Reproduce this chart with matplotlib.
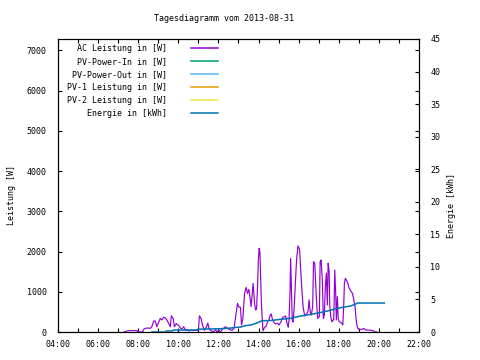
import matplotlib
matplotlib.use("Agg")
import matplotlib.pyplot as plt
from matplotlib.ticker import MultipleLocator, FixedLocator

plt.rcParams['font.family'] = ['DejaVu Sans Mono']
plt.rcParams['font.size'] = 6

title = "Tagesdiagramm vom 2013-08-31"
series_names = ["AC Leistung in [W]", "PV-Power-In in [W]", "PV-Power-Out in [W]",
                "PV-1 Leistung in [W]", "PV-2 Leistung in [W]", "Energie in [kWh]"]
colors = ["#9400D3", "#009E73", "#56B4E9", "#E69F00", "#F0E442", "#0072B2"]

x_ticks = [4, 6, 8, 10, 12, 14, 16, 18, 20, 22]
x_labels = ["04:00", "06:00", "08:00", "10:00", "12:00", "14:00",
            "16:00", "18:00", "20:00", "22:00"]

# AC Leistung (hours, W)
ac_time = [7.30, 7.45, 7.60, 7.93, 8.00, 8.22, 8.27, 8.35, 8.50, 8.60, 8.68, 8.77, 8.85,
           8.93, 9.00, 9.10, 9.18, 9.27, 9.35, 9.43, 9.52, 9.60, 9.65, 9.75, 9.80, 9.90,
           9.95, 10.02, 10.10, 10.18, 10.27, 10.35, 10.43, 10.52, 10.60, 10.75, 10.90,
           11.00, 11.05, 11.13, 11.20, 11.30, 11.40, 11.47, 11.53, 11.60, 11.77, 11.85,
           11.93, 12.02, 12.10, 12.18, 12.35, 12.50, 12.68, 12.78, 12.88, 12.95, 13.02,
           13.10, 13.15, 13.22, 13.30, 13.38, 13.45, 13.52, 13.58, 13.63, 13.68, 13.73,
           13.80, 13.85, 13.90, 13.95, 13.99, 14.03, 14.07, 14.10, 14.15, 14.22, 14.30,
           14.38, 14.45, 14.52, 14.58, 14.63, 14.70, 14.78, 14.85, 14.95, 15.02, 15.12,
           15.20, 15.30, 15.35, 15.42, 15.48, 15.52, 15.57, 15.60, 15.64, 15.68, 15.72,
           15.77, 15.83, 15.90, 15.97, 16.05, 16.10, 16.15, 16.22, 16.30, 16.40, 16.47,
           16.52, 16.58, 16.63, 16.70, 16.74, 16.80, 16.85, 16.90, 16.95, 17.03, 17.07,
           17.12, 17.18, 17.23, 17.28, 17.33, 17.38, 17.43, 17.47, 17.52, 17.55, 17.60,
           17.65, 17.72, 17.75, 17.80, 17.85, 17.88, 17.93, 17.97, 18.02, 18.10, 18.15,
           18.20, 18.25, 18.28, 18.33, 18.38, 18.45, 18.52, 18.68, 18.75, 18.82, 18.85,
           18.90, 18.95, 19.00, 19.17, 19.25, 19.33, 19.60, 19.72, 19.82, 19.90]
ac_power = [0, 25, 35, 35, 0, 0, 65, 90, 100, 90, 130, 275, 270,
            130, 220, 340, 300, 365, 350, 300, 210, 130, 400, 330, 130, 210,
            180, 165, 100, 75, 130, 40, 60, 25, 45, 40, 40,
            40, 400, 340, 180, 40, 130, 220, 80, 40, 0, 60,
            0, 50, 0, 60, 130, 75, 40, 100, 450, 710, 620,
            610, 175, 350, 950, 1110, 960, 1060, 840, 630, 920, 1210,
            710, 550, 570, 1120, 1790, 2080, 1960, 1400, 630, 30, 115,
            150, 255, 300, 420, 450, 300, 230, 200, 215, 175, 255,
            365, 380, 400, 215, 115, 300, 1000, 1830, 1100, 300, 250,
            550, 1170, 1830, 2140, 2040, 1540, 1125, 630, 400, 450, 520,
            800, 480, 420, 630, 1750, 1710, 1210, 670, 340, 380, 1750,
            1790, 1290, 340, 420, 1125, 1460, 670, 1710, 1500, 670, 380,
            255, 300, 300, 1540, 900, 300, 880, 340, 255, 240, 215,
            175, 710, 1210, 1335, 1290, 1210, 1085, 960, 800, 590, 380,
            175, 90, 65, 65, 90, 50, 45, 30, 0, 0]

# Series without data on this day
pv_in_time, pv_in_power = [], []
pv_out_time, pv_out_power = [], []
pv1_time, pv1_power = [], []
pv2_time, pv2_power = [], []

# Energie (hours, kWh)
energy_time = [8.68, 9.35, 9.40, 9.70, 9.75, 10.90, 10.95, 11.20, 12.05, 12.60, 12.90,
               13.10, 13.30, 13.60, 13.80, 14.05, 14.15, 14.65, 15.10, 15.60, 16.10,
               16.60, 17.10, 17.40, 17.60, 18.10, 18.60, 18.85, 18.93, 20.27]
energy_kwh = [0.0, 0.0, 0.15, 0.15, 0.3, 0.3, 0.4, 0.45, 0.5, 0.6, 0.72,
              0.75, 0.95, 1.07, 1.25, 1.55, 1.72, 1.78, 1.95, 2.1, 2.45,
              2.7, 3.0, 3.2, 3.37, 3.73, 4.0, 4.3, 4.45, 4.45]

fig = plt.figure(figsize=(4.8, 3.6), dpi=100)
L, R, T, B = 58, 419, 39, 332
ax = fig.add_axes([L / 480, 1 - B / 360, (R - L) / 480, (B - T) / 360])
ax2 = ax.twinx()

lw = 0.85
h1, = ax.plot(ac_time, ac_power, color=colors[0], lw=lw)
h2, = ax.plot(pv_in_time, pv_in_power, color=colors[1], lw=lw)
h3, = ax.plot(pv_out_time, pv_out_power, color=colors[2], lw=lw)
h4, = ax.plot(pv1_time, pv1_power, color=colors[3], lw=lw)
h5, = ax.plot(pv2_time, pv2_power, color=colors[4], lw=lw)
h6, = ax2.plot(energy_time, energy_kwh, color=colors[5], lw=1.1)

ax.set_xlim(4, 22)
ax.set_ylim(0, 7280)
ax2.set_ylim(0, 45)

ax.xaxis.set_major_locator(FixedLocator(x_ticks))
ax.set_xticklabels(x_labels)
ax.xaxis.set_minor_locator(MultipleLocator(1))
ax.yaxis.set_major_locator(MultipleLocator(1000))
ax2.yaxis.set_major_locator(MultipleLocator(5))

for a in (ax, ax2):
    for s in a.spines.values():
        s.set_linewidth(0.8)
        s.set_color("black")
ax.tick_params(axis='both', which='both', direction='in', length=3, width=0.8,
               top=True, right=True, labelright=False, colors='black')
ax.tick_params(axis='x', pad=6)
ax.tick_params(axis='y', pad=8)
ax2.tick_params(axis='y', direction='in', length=3, width=0.8, pad=8)

fig.text(224 / 480, 1 - 18.5 / 360, title, ha='center', va='center')
fig.text(11.5 / 480, 1 - 195 / 360, "Leistung [W]", rotation=90, ha='center', va='center')
fig.text(452 / 480, 1 - 206 / 360, "Energie [kWh]", rotation=90, ha='center', va='center')

leg = ax2.legend([h1, h2, h3, h4, h5, h6], series_names, markerfirst=False,
                 loc='upper right', bbox_to_anchor=(218 / 480, 1 - 44 / 360),
                 bbox_transform=fig.transFigure, frameon=False, borderpad=0,
                 handlelength=3.3, handletextpad=2.8, labelspacing=0.48,
                 borderaxespad=0)
for line in leg.get_lines():
    line.set_linewidth(1.1)

fig.savefig("out.png", dpi=100)
